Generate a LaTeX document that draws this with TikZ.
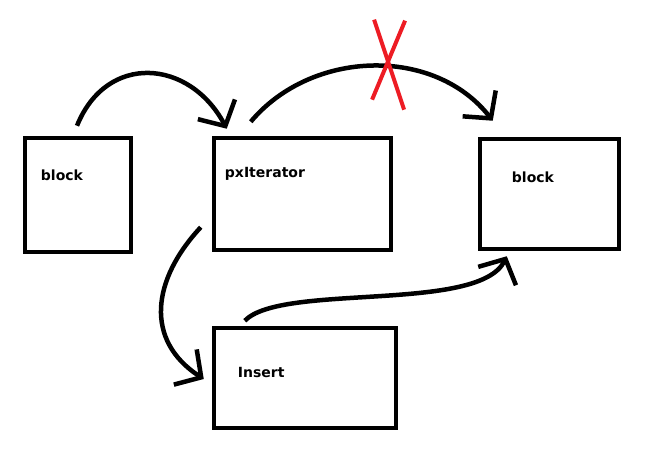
\documentclass[tikz,border=0pt]{standalone}
\usepackage{xcolor}
\usepackage{fontspec}
\setmainfont{DejaVu Sans}
\usetikzlibrary{positioning, arrows.meta, calc}
\definecolor{cutred}{RGB}{237,28,36}

\tikzset{
  box/.style={draw, line width=4.5pt, inner sep=0pt},
  lbl/.style={font=\fontsize{14}{16}\selectfont\bfseries, inner sep=0pt},
  flow/.style={-{Straight Barb[length=19pt, width=42pt]}, line width=4.5pt},
  cut/.style={cutred, line width=4pt}
}

\begin{document}
\begin{tikzpicture}[x=1pt, y=-1pt]
        \useasboundingbox (0,0) rectangle (652,454);
        \node[box, minimum width=106pt, minimum height=114pt] (b1) at (78,195) {};
        \node[box, minimum width=177pt, minimum height=112pt] (b2) at (302.5,194) {};
        \node[box, minimum width=139pt, minimum height=110pt] (b3) at (549.5,194) {};
        \node[box, minimum width=182pt, minimum height=100pt] (b4) at (305,378) {};
        \node[lbl, below right=45pt and 18pt of b1.north west, anchor=base west] (lb1) {block};
        \node[lbl, below right=42pt and 13pt of b2.north west, anchor=base west] (lb2) {pxIterator};
        \node[lbl, below right=46pt and 34pt of b3.north west, anchor=base west] (lb3) {block};
        \node[lbl, below right=52pt and 26pt of b4.north west, anchor=base west] (lb4) {Insert};
        \draw[flow] ($(b1.north)+(-1,-10)$) to[out=68, in=118, looseness=1.35] ($(b2.north west)+(15,-7)$);
        \draw[flow] ($(b2.north west)+(39,-14)$) to[out=50, in=128] coordinate[pos=0.56] (skip) ($(b3.north west)+(15,-16)$);
        \draw[flow] ($(b2.south west)+(-11,-25)$) to[out=227, in=147, looseness=1.2] ($(b4.west)+(-8,1)$);
        \draw[flow] ($(b4.north west)+(33,-5)$) to[out=46, in=244, out looseness=0.5, in looseness=0.6] ($(b3.south west)+(29,5)$);
        % crossed out
        \draw[cut] ($(skip)+(-15,-47)$) -- ($(skip)+(15,43)$);
        \draw[cut] ($(skip)+(16,-46)$) -- ($(skip)+(-17,33)$);
    \end{tikzpicture}
\end{document}
